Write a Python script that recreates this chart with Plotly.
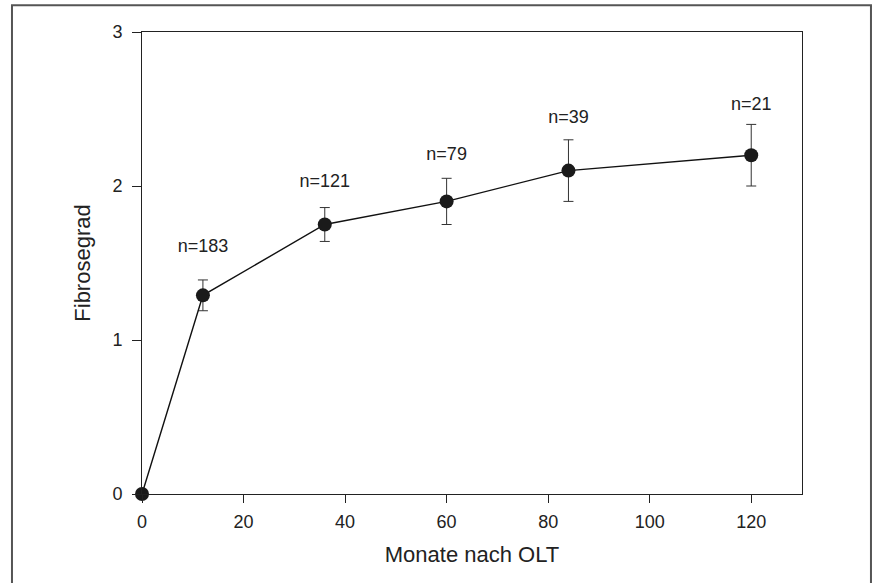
import plotly.graph_objects as go

# Data
months = [0, 12, 36, 60, 84, 120]
fibrose = [0, 1.29, 1.75, 1.90, 2.10, 2.20]
err = [0, 0.10, 0.11, 0.15, 0.20, 0.20]

label_x = [12, 36, 60, 84, 120]
label_y = [1.60, 2.02, 2.20, 2.44, 2.52]
label_text = ["n=183", "n=121", "n=79", "n=39", "n=21"]

x_ticks = [0, 20, 40, 60, 80, 100, 120]
y_ticks = [0, 1, 2, 3]

FONT = "Liberation Sans, Arial, sans-serif"
TXT = "#222222"

fig = go.Figure()
fig.add_trace(go.Scatter(
    x=months, y=fibrose,
    mode="lines+markers",
    line=dict(color="#111111", width=1.4),
    marker=dict(color="#1a1a1a", size=14),
    error_y=dict(type="data", array=err, visible=True, color="#333333", thickness=1, width=5),
    cliponaxis=False,
    showlegend=False,
))
fig.add_trace(go.Scatter(
    x=label_x, y=label_y, text=label_text, mode="text",
    textfont=dict(family=FONT, size=18, color=TXT),
    showlegend=False, cliponaxis=False,
))

fig.update_layout(
    width=872, height=583,
    margin=dict(l=142, r=70, t=32, b=89),
    paper_bgcolor="white", plot_bgcolor="white",
    font=dict(family=FONT, color=TXT),
    xaxis=dict(
        range=[0, 130], tickvals=x_ticks, ticks="outside", ticklen=8, tickwidth=1,
        tickcolor="#222", showline=True, linecolor="#222", linewidth=1, mirror=True,
        showgrid=False, zeroline=False, tickfont=dict(size=18, family=FONT, color=TXT),
        ticklabelstandoff=3,
        title=dict(text="Monate nach OLT", font=dict(size=22, family=FONT, color=TXT), standoff=16),
        automargin=False,
    ),
    yaxis=dict(
        range=[0, 3], tickvals=y_ticks, ticks="outside", ticklen=9, tickwidth=1,
        tickcolor="#222", showline=True, linecolor="#222", linewidth=1, mirror=True,
        showgrid=False, zeroline=False, tickfont=dict(size=18, family=FONT, color=TXT),
        ticklabelstandoff=6,
        title=dict(text="Fibrosegrad", font=dict(size=22, family=FONT, color=TXT), standoff=15),
        automargin=False,
    ),
    shapes=[dict(
        type="rect", xref="paper", yref="paper",
        x0=-0.197, x1=1.1045, y0=-0.3, y1=1.058,
        line=dict(color="#555555", width=2), layer="above",
    )],
)

fig.write_html("out.html")
